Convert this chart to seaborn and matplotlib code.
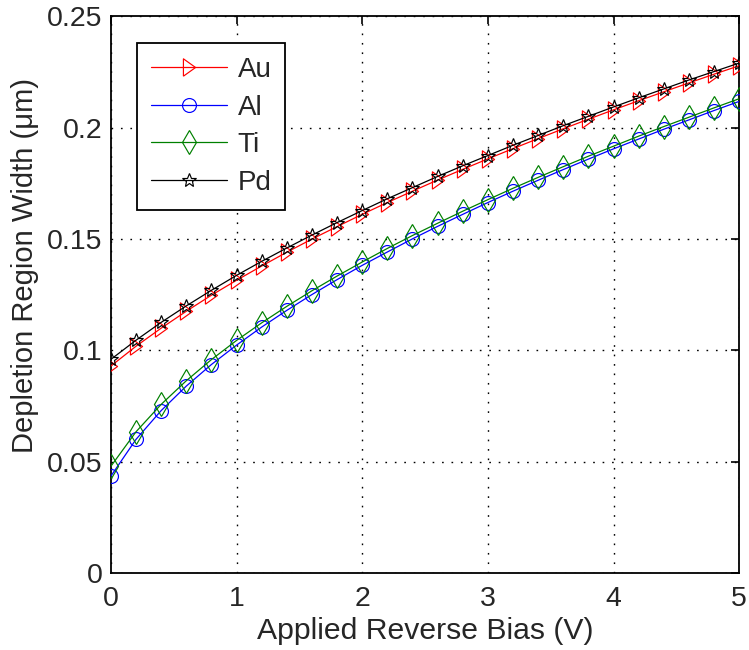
import numpy as np
import pandas as pd
import matplotlib
matplotlib.use("Agg")
import matplotlib.pyplot as plt
import seaborn as sns

# Applied reverse bias (V)
bias = [0.0, 0.2, 0.4, 0.6, 0.8, 1.0, 1.2, 1.4, 1.6, 1.8, 2.0, 2.2, 2.4,
        2.6, 2.8, 3.0, 3.2, 3.4, 3.6, 3.8, 4.0, 4.2, 4.4, 4.6, 4.8, 5.0]

# Depletion region width (um) for each contact metal
w_au = [0.0930, 0.1019, 0.1100, 0.1176, 0.1248, 0.1315, 0.1379, 0.1441, 0.1500,
        0.1556, 0.1611, 0.1664, 0.1715, 0.1765, 0.1813, 0.1860, 0.1906, 0.1951,
        0.1995, 0.2038, 0.2080, 0.2121, 0.2161, 0.2201, 0.2240, 0.2278]
w_al = [0.0436, 0.0601, 0.0730, 0.0840, 0.0937, 0.1024, 0.1105, 0.1180, 0.1251,
        0.1318, 0.1382, 0.1442, 0.1501, 0.1557, 0.1611, 0.1664, 0.1715, 0.1764,
        0.1812, 0.1859, 0.1905, 0.1949, 0.1993, 0.2035, 0.2077, 0.2118]
w_ti = [0.0480, 0.0635, 0.0758, 0.0864, 0.0959, 0.1045, 0.1124, 0.1198, 0.1268,
        0.1334, 0.1397, 0.1458, 0.1516, 0.1571, 0.1625, 0.1677, 0.1728, 0.1777,
        0.1825, 0.1872, 0.1917, 0.1962, 0.2005, 0.2047, 0.2089, 0.2130]
w_pd = [0.0960, 0.1046, 0.1126, 0.1200, 0.1270, 0.1337, 0.1400, 0.1460, 0.1518,
        0.1574, 0.1628, 0.1681, 0.1731, 0.1781, 0.1829, 0.1875, 0.1921, 0.1965,
        0.2009, 0.2051, 0.2093, 0.2134, 0.2174, 0.2214, 0.2252, 0.2290]

metals = ["Au", "Al", "Ti", "Pd"]
x_ticks = [0, 1, 2, 3, 4, 5]
y_ticks = [0, 0.05, 0.1, 0.15, 0.2, 0.25]
y_tick_labels = ["0", "0.05", "0.1", "0.15", "0.2", "0.25"]

sns.set_theme(style="white")
plt.rcParams["font.family"] = ["Liberation Sans", "DejaVu Sans"]

TEXT = "#262626"
TICK_FS = 20.5

fig = plt.figure(figsize=(7.49, 6.5), dpi=100)
ax = fig.add_axes([0.148, 0.118, 0.839, 0.857])

series = {"Au": w_au, "Al": w_al, "Ti": w_ti, "Pd": w_pd}
colors = {"Au": "#ff0000", "Al": "#0000ff", "Ti": "#008000", "Pd": "#000000"}
# right-pointing triangle, taller than wide
tri_right = [(-0.7, -1.0), (0.7, 0.0), (-0.7, 1.0), (-0.7, -1.0)]
markers = {"Au": tri_right, "Al": "o", "Ti": "d", "Pd": "*"}
msizes = {"Au": 12.5, "Al": 10, "Ti": 12.5, "Pd": 10}

for m in metals:
    df = pd.DataFrame({"bias": bias, "width": series[m]})
    sns.lineplot(data=df, x="bias", y="width", ax=ax, color=colors[m],
                 marker=markers[m], markersize=msizes[m], markerfacecolor="none",
                 markeredgecolor=colors[m], markeredgewidth=0.85, linewidth=0.9,
                 label=m, zorder=3)

ax.set_xlim(0, 5)
ax.set_ylim(0, 0.25)
ax.set_xticks(x_ticks)
ax.set_xticklabels([str(t) for t in x_ticks])
ax.set_yticks(y_ticks)
ax.set_yticklabels(y_tick_labels)

ax.grid(True, linestyle=(0, (1.2, 5.6)), color="black", linewidth=1.0)
ax.tick_params(direction="in", length=5.5, width=1.2, top=True, right=True,
               labelsize=TICK_FS, colors="black", labelcolor=TEXT)
ax.tick_params(axis="x", pad=9)
ax.tick_params(axis="y", pad=6)
for s in ax.spines.values():
    s.set_color("black")
    s.set_linewidth(1.3)

ax.set_xlabel("Applied Reverse Bias (V)", fontsize=21.7, color=TEXT, labelpad=4)
ax.set_ylabel("Depletion Region Width (μm)", fontsize=21, color=TEXT)
ax.yaxis.set_label_coords(-0.114, 0.553)

leg = ax.legend(loc="upper left", bbox_to_anchor=(0.041, 0.952), borderaxespad=0,
                fontsize=20, handlelength=2.77, handletextpad=0.36,
                labelspacing=0.42, borderpad=0.5, fancybox=False, framealpha=1)
leg.get_frame().set_edgecolor("black")
leg.get_frame().set_linewidth(1.3)
for t in leg.get_texts():
    t.set_color(TEXT)

fig.savefig("out.png", dpi=100)
